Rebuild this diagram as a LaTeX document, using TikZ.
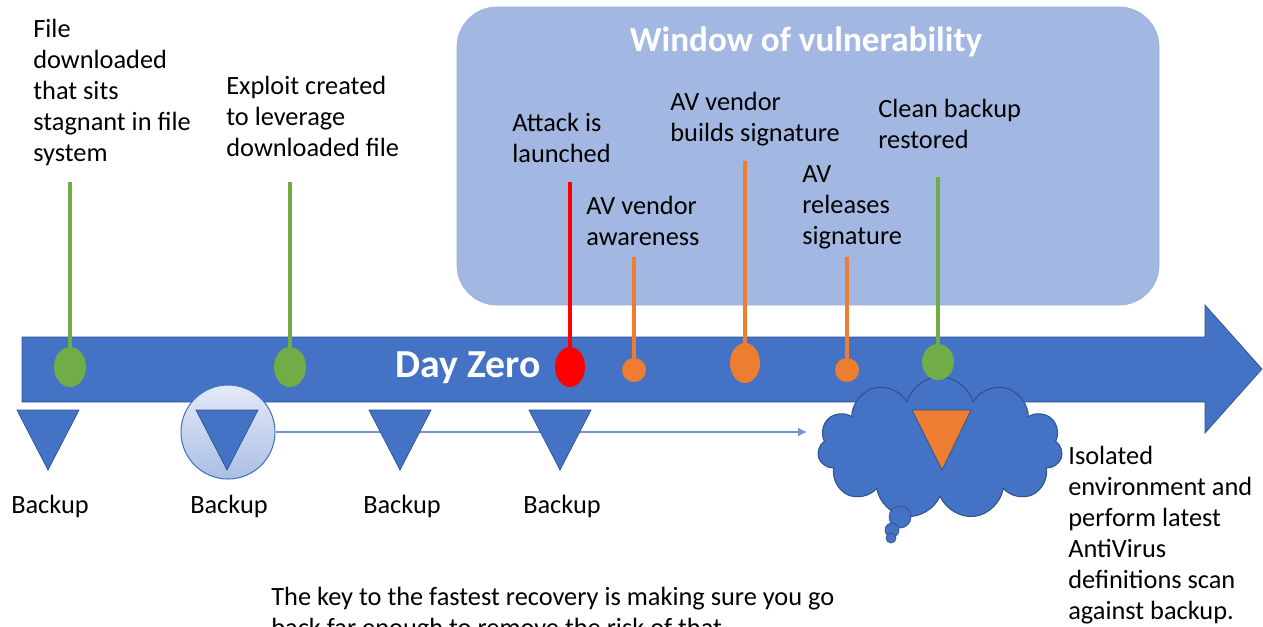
\documentclass[tikz,border=0pt]{standalone}
\usepackage{fontspec}
\setmainfont{Carlito}
\usetikzlibrary{shapes.geometric,shapes.symbols,arrows.meta}

\definecolor{msblue}{HTML}{4472C4}
\definecolor{msdark}{HTML}{2F528F}
\definecolor{msgreen}{HTML}{70AD47}
\definecolor{msorange}{HTML}{ED7D31}
\definecolor{mswin}{HTML}{A2B7E1}
\definecolor{mslink}{HTML}{6F93D3}

\tikzset{
	lbl/.style={anchor=north west, align=left, inner sep=0pt, font=\fontsize{15}{17.6}\selectfont},
	mk/.style={ellipse, fill=#1, inner sep=0pt},
	stem/.style={line width=2.8pt},
	bk/.style={fill=msblue, draw=msdark, line width=0.4pt}
}

\begin{document}
\begin{tikzpicture}[x=0.02cm,y=-0.02cm]
	\useasboundingbox (0,0) rectangle (1263,626);
	\clip (0,0) rectangle (1263,626);
	
	%% window of vulnerability
	\draw[fill=mswin, draw=mslink!70, rounded corners=0.8cm] (457,7) rectangle (1159,305);
	\node[text=white, font=\bfseries\fontsize{20}{24}\selectfont] (wtitle) at (806,42) {Window of vulnerability};
	
	%% time line arrow
	\draw[fill=msblue, draw=msdark, line width=0.4pt] (22,337) -- (1205,337) -- (1205,305) -- (1262,369) -- (1205,433) -- (1205,402) -- (22,402) -- cycle;
	\node[text=white, font=\bfseries\fontsize{22.6}{27}\selectfont] (dz) at (468,368) {Day Zero};
	
	%% isolated environment
	\node[cloud, cloud puffs=11, aspect=1.7, fill=msblue, draw=msdark, line width=0.6pt, minimum width=4.9cm, minimum height=2.85cm] (cl) at (940,448) {};
	\draw[bk] (900,517) circle (11);
	\draw[bk] (892,530) circle (7);
	\draw[bk] (891,538) circle (5);
	\draw[fill=msorange, draw=msdark, line width=0.4pt] (912,410) -- (971,410) -- (942,470) -- cycle;
	
	%% events
	\foreach \n/\x/\y/\top/\col/\w/\h in {g1/70/367/182/msgreen/32/40, g2/290/367/182/msgreen/32/40, r/570/367/182/red/30/40, o1/634/370/257/msorange/24/24, o2/745/363/161/msorange/30/40, o3/847/370/257/msorange/24/24, g3/938/362/177/msgreen/32/36}{
		\node[mk=\col, minimum width=\w*0.02cm, minimum height=\h*0.02cm] (m\n) at (\x,\y) {};
		\coordinate (t\n) at (\x,\top);
		\draw[stem,\col] (t\n) -- (m\n);
	}
	
	%% backups
	\node[circle, draw=msblue, line width=0.6pt, top color=msblue!15, bottom color=msblue!45, minimum size=1.88cm] (c) at (228,432) {};
	\coordinate (ae) at (807,432);
	\draw[mslink, line width=1.2pt, -{Latex[length=5pt,width=5pt]}] (c.east) -- (ae);
	\foreach \x/\n in {48/1,227/2,400/3,560/4}{
		\draw[bk] (\x-31,410) -- (\x+31,410) -- (\x,470) -- cycle;
		\node[font=\fontsize{15}{17.6}\selectfont] (b\n) at (\x+2,506) {Backup};
	}
	
	%% labels
	\node[lbl] (l1) at (33,19) {File\\downloaded\\that sits\\stagnant in file\\system};
	\node[lbl] (l2) at (226,76) {Exploit created\\to leverage\\downloaded file};
	\node[lbl] (l3) at (512,113) {Attack is\\launched};
	\node[lbl] (l4) at (586,196) {AV vendor\\awareness};
	\node[lbl] (l5) at (670,92) {AV vendor\\builds signature};
	\node[lbl] (l6) at (802,165) {AV\\releases\\signature};
	\node[lbl] (l7) at (878,99) {Clean backup\\restored};
	\node[lbl] (l8) at (1068,446) {Isolated\\environment and\\perform latest\\AntiVirus\\definitions scan\\against backup.};
	\node[lbl] (l9) at (271,587) {The key to the fastest recovery is making sure you go\\back far enough to remove the risk of that};
\end{tikzpicture}
\end{document}
